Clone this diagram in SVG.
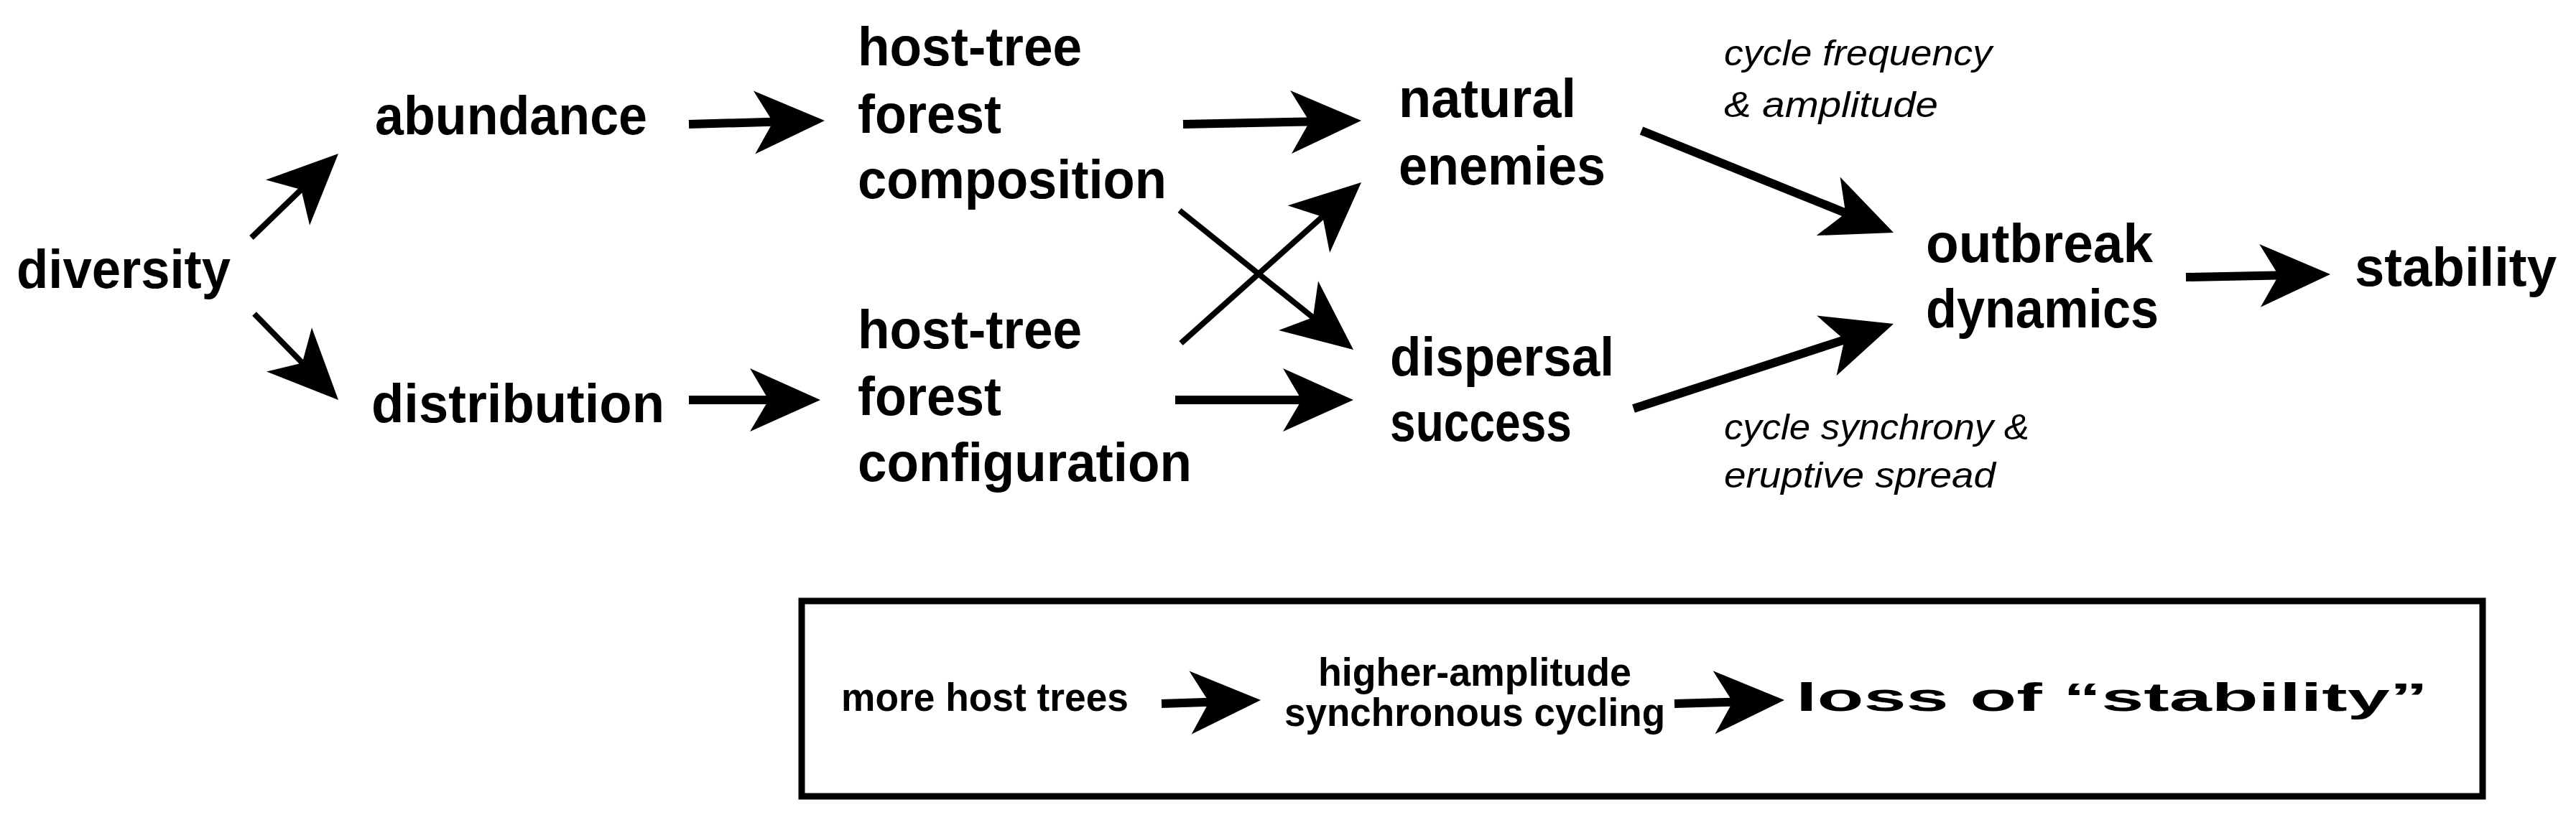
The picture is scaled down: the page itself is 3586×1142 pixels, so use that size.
<svg xmlns="http://www.w3.org/2000/svg" width="3586" height="1142" viewBox="0 0 3586 1142">
<style>
.t{font-family:"Liberation Sans",Arial,sans-serif;font-weight:bold;font-size:76px;fill:#000}
.i{font-family:"Liberation Sans",Arial,sans-serif;font-style:italic;font-size:50px;fill:#000}
.s{font-family:"Liberation Sans",Arial,sans-serif;font-weight:bold;font-size:56px;fill:#000}
.c line{stroke:#000;stroke-width:8}
.c line.k{stroke-width:12}
.c use{fill:#000}
</style>
<defs>
<path id="hd" d="M-98,-44 L0,0 L-98,44 L-72,0 z"/>
</defs>
<rect width="3586" height="1142" fill="#fff"/>
<g id="n-diversity"><text class="t" x="23" y="401" textLength="298" lengthAdjust="spacingAndGlyphs">diversity</text></g>
<g id="n-abundance"><text class="t" x="522" y="187" textLength="379" lengthAdjust="spacingAndGlyphs">abundance</text></g>
<g id="n-distribution"><text class="t" x="517" y="588" textLength="408" lengthAdjust="spacingAndGlyphs">distribution</text></g>
<g id="n-composition">
<text class="t" x="1194" y="91" textLength="312" lengthAdjust="spacingAndGlyphs">host-tree</text>
<text class="t" x="1194" y="185" textLength="200" lengthAdjust="spacingAndGlyphs">forest</text>
<text class="t" x="1194" y="276" textLength="430" lengthAdjust="spacingAndGlyphs">composition</text>
</g>
<g id="n-configuration">
<text class="t" x="1194" y="485" textLength="312" lengthAdjust="spacingAndGlyphs">host-tree</text>
<text class="t" x="1194" y="578" textLength="200" lengthAdjust="spacingAndGlyphs">forest</text>
<text class="t" x="1194" y="670" textLength="465" lengthAdjust="spacingAndGlyphs">configuration</text>
</g>
<g id="n-natural">
<text class="t" x="1947" y="163" textLength="247" lengthAdjust="spacingAndGlyphs">natural</text>
<text class="t" x="1947" y="257" textLength="288" lengthAdjust="spacingAndGlyphs">enemies</text>
</g>
<g id="n-dispersal">
<text class="t" x="1935" y="523" textLength="312" lengthAdjust="spacingAndGlyphs">dispersal</text>
<text class="t" x="1935" y="614" textLength="253" lengthAdjust="spacingAndGlyphs">success</text>
</g>
<g id="n-outbreak">
<text class="t" x="2681" y="365" textLength="316" lengthAdjust="spacingAndGlyphs">outbreak</text>
<text class="t" x="2681" y="456" textLength="324" lengthAdjust="spacingAndGlyphs">dynamics</text>
</g>
<g id="n-stability"><text class="t" x="3278" y="398" textLength="281" lengthAdjust="spacingAndGlyphs">stability</text></g>
<g id="labels">
<text class="i" x="2400" y="91" textLength="373" lengthAdjust="spacingAndGlyphs">cycle frequency</text>
<text class="i" x="2400" y="163" textLength="298" lengthAdjust="spacingAndGlyphs">&amp; amplitude</text>
<text class="i" x="2400" y="612" textLength="425" lengthAdjust="spacingAndGlyphs">cycle synchrony &amp;</text>
<text class="i" x="2400" y="679" textLength="378" lengthAdjust="spacingAndGlyphs">eruptive spread</text>
</g>
<g id="legend">
<rect x="1116" y="837" width="2340" height="272" fill="none" stroke="#000" stroke-width="9"/>
<text class="s" x="1171" y="990" textLength="400" lengthAdjust="spacingAndGlyphs">more host trees</text>
<text class="s" x="2053" y="955" text-anchor="middle" textLength="436" lengthAdjust="spacingAndGlyphs">higher-amplitude</text>
<text class="s" x="2053" y="1011" text-anchor="middle" textLength="530" lengthAdjust="spacingAndGlyphs">synchronous cycling</text>
<text class="s" x="2500" y="990" textLength="880" lengthAdjust="spacingAndGlyphs">loss of “stability”</text>
</g>
<g id="connectors" class="c">
<line x1="350" y1="331" x2="440" y2="244"/><use href="#hd" transform="translate(471,214) rotate(-44)"/>
<line x1="354" y1="437" x2="440" y2="525"/><use href="#hd" transform="translate(471,557) rotate(45.7)"/>
<line class="k" x1="959" y1="173" x2="1100" y2="169"/><use href="#hd" transform="translate(1148,168) rotate(-1.5)"/>
<line class="k" x1="959" y1="557" x2="1095" y2="557"/><use href="#hd" transform="translate(1142,557)"/>
<line class="k" x1="1647" y1="173" x2="1845" y2="169"/><use href="#hd" transform="translate(1895,168) rotate(-1.2)"/>
<line class="k" x1="1636" y1="557" x2="1835" y2="557"/><use href="#hd" transform="translate(1884,557)"/>
<line x1="1642" y1="293" x2="1850" y2="460"/><use href="#hd" transform="translate(1884,487) rotate(38.7)"/>
<line x1="1644" y1="478" x2="1862" y2="283"/><use href="#hd" transform="translate(1895,254) rotate(-41.7)"/>
<line class="k" x1="2285" y1="182" x2="2590" y2="305"/><use href="#hd" transform="translate(2636,324) rotate(22)"/>
<line class="k" x1="2274" y1="569" x2="2590" y2="466"/><use href="#hd" transform="translate(2636,451) rotate(-18.1)"/>
<line class="k" x1="3043" y1="386" x2="3195" y2="383"/><use href="#hd" transform="translate(3244,382) rotate(-1.1)"/>
<line class="k" x1="1617" y1="980" x2="1707" y2="977"/><use href="#hd" transform="translate(1755,975) rotate(-2.1)"/>
<line class="k" x1="2331" y1="980" x2="2436" y2="977"/><use href="#hd" transform="translate(2484,975) rotate(-1.9)"/>
</g>
</svg>
